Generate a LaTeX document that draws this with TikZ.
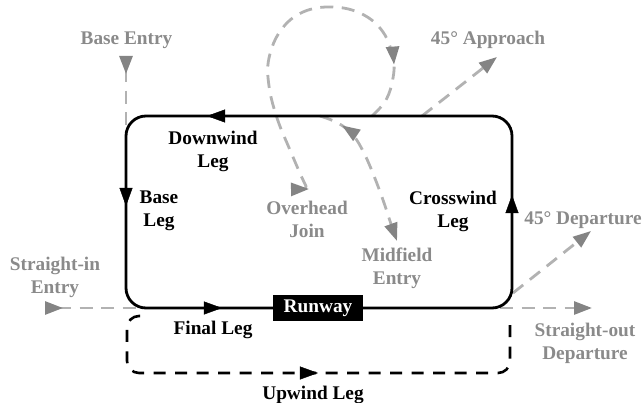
\documentclass[tikz,border=0pt]{standalone}
\usepackage{fontspec}
\setmainfont{Liberation Serif}
\usetikzlibrary{arrows.meta,decorations.markings}
\definecolor{txtgray}{RGB}{138,138,138}
\definecolor{dashgray}{RGB}{178,178,178}
\definecolor{tipgray}{RGB}{132,132,132}
\tikzset{
  BTip/.tip={Triangle[length=18pt,width=13pt,color=black]},
  GTip/.tip={Triangle[length=18pt,width=13pt,color=tipgray]},
}
\begin{document}
\begin{tikzpicture}[x=1pt,y=-1pt,
  lbl/.style={font=\fontsize{19.3}{23}\selectfont\bfseries, align=center, inner sep=0pt},
  glbl/.style={lbl, text=txtgray},
  pattern/.style={line width=2.8pt, rounded corners=20pt},
  gdash/.style={draw=dashgray, line width=2.8pt, dash pattern=on 13pt off 8.5pt},
  tipat/.style={decoration={markings, mark=at position 0.999 with {\pgfsetdash{}{0pt}\arrow{#1}}}, decorate},
  rtipat/.style 2 args={postaction={decoration={markings, mark=at position #1 with {\pgfsetdash{}{0pt}\arrowreversed{#2}}}, decorate}},
]
\useasboundingbox (0,0) rectangle (644,403);

% corners of the pattern
\coordinate (TL) at (126,116);
\coordinate (TR) at (512,116);
\coordinate (BR) at (512,308);
\coordinate (BL) at (126,308);

% labels
\node[lbl] (downwind) at (213,151) {Downwind\\Leg};
\node[lbl] (baseleg) at (159,211) {Base\\Leg};
\node[lbl] (cross) at (453,211) {Crosswind\\Leg};
\node[lbl] (final) at (213,330) {Final Leg};
\node[lbl] (upwind) at (313,395) {Upwind Leg};
\node[glbl] (baseentry) at (126.5,40) {Base Entry};
\node[glbl] (approach) at (488,40) {45° Approach};
\node[glbl] (overhead) at (307,219) {Overhead\\Join};
\node[glbl] (midfield) at (397,268) {Midfield\\Entry};
\node[glbl] (straightin) at (55,277) {Straight-in\\Entry};
\node[glbl] (dep45) at (583,220) {45° Departure};
\node[glbl] (straightout) at (585,343) {Straight-out\\Departure};

% gray entries / departures
\coordinate (be0) at (126,56);
\coordinate (be1) at (126,133);
\draw[gdash, {GTip[reversed]}-] (be0) -- (be1);

\coordinate (si0) at (45,308);
\coordinate (si1) at (142,308);
\draw[gdash, {GTip[reversed]}-] (si0) -- (si1);

\coordinate (ap0) at (422,116);
\coordinate (ap1) at (497,57);
\draw[gdash, -{GTip}] (ap0) -- (ap1);

\coordinate (d450) at (513,293);
\coordinate (d451) at (591,231);
\draw[gdash, -{GTip}] (d450) -- (d451);

\coordinate (so0) at (500,308);
\coordinate (so1) at (592,308);
\draw[gdash, -{GTip}] (so0) -- (so1);

% overhead join loop
\draw[gdash, -{GTip}, rtipat={58pt}{GTip}]
  plot[smooth, tension=0.65] coordinates {(372,116) (386,100) (393,78) (393,58) (383,32) (362,14) (333,7) (303,12) (281,30) (269,58) (269,86) (277,118) (290,150) (304,182) (309,189)};

% midfield entry
\draw[gdash, -{GTip}, rtipat={24pt}{GTip}]
  plot[smooth, tension=0.6] coordinates {(320,116) (338,123) (353,135) (364,153) (374,176) (383,200) (391,224) (397,241)};

% upwind leg
\draw[line width=2.6pt, dash pattern=on 12pt off 9.5pt, rounded corners=12pt]
  (140,316) -- (127,316) -- (127,373) -- (510,373) -- (510,320);
\path[tipat=BTip] (296,373) -- (318,373);

% main pattern
\draw[pattern] (318,308) -- (BR) -- (TR) -- (TL) -- (BL) -- cycle;
\path[tipat=BTip] (228,116) -- (207,116);
\path[tipat=BTip] (126,186) -- (126,206);
\path[tipat=BTip] (200,308) -- (222,308);
\path[tipat=BTip] (512,216) -- (512,195);

% runway
\node[lbl, fill=black, text=white, minimum width=90pt, minimum height=26pt] (runway) at (318,308) {Runway};
\end{tikzpicture}
\end{document}
